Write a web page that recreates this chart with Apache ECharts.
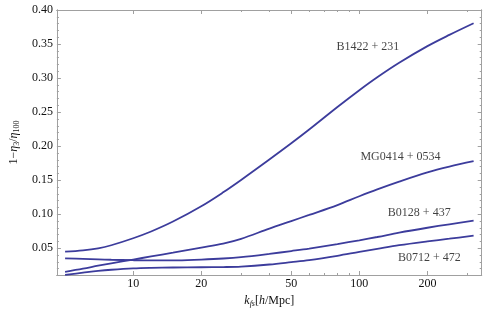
<!DOCTYPE html>
<html><head><meta charset="utf-8">
<script src="https://cdn.jsdelivr.net/npm/echarts@6/dist/echarts.min.js"></script>
<style>html,body{margin:0;padding:0;background:#fff}#c{width:490px;height:313px}</style>
</head><body><div id="c"></div>
<script>
// wavenumber k_fs [h/Mpc]
const kValues = [5, 6, 7, 8, 10, 12, 15, 20, 25, 30, 40, 50, 60, 80, 100, 120, 150, 200, 250, 320];
// 1 - eta3/eta100 for each lens system
const B1422 = [0.045, 0.047, 0.050, 0.0545, 0.0648, 0.0747, 0.0893, 0.1118, 0.1322, 0.1504, 0.1804, 0.2042, 0.2244, 0.2575, 0.2822, 0.3012, 0.3225, 0.3469, 0.3634, 0.3805];
const MG0414 = [0.0155, 0.020, 0.0245, 0.028, 0.0335, 0.038, 0.0435, 0.051, 0.057, 0.064, 0.079, 0.090, 0.099, 0.1135, 0.1265, 0.1366, 0.148, 0.1615, 0.170, 0.178];
const B0128 = [0.0353, 0.0345, 0.0338, 0.0332, 0.0325, 0.0322, 0.0322, 0.0335, 0.035, 0.037, 0.0418, 0.046, 0.0496, 0.0562, 0.0618, 0.0666, 0.073, 0.0802, 0.0853, 0.0905];
const B0712 = [0.011, 0.0142, 0.0168, 0.0185, 0.0205, 0.0213, 0.0218, 0.0222, 0.0225, 0.0232, 0.0262, 0.0296, 0.0326, 0.039, 0.0447, 0.0492, 0.0546, 0.0602, 0.0641, 0.0685];
const seriesNames = ['B1422 + 231', 'MG0414 + 0534', 'B0128 + 437', 'B0712 + 472'];
// annotation anchors (data space)
const labelK = [109, 152, 184, 204];
const labelV = [0.3464, 0.1845, 0.1014, 0.0353];
// ticks
const xLabelTicks = [10, 20, 50, 100, 200];
const xMinorTicks = [30, 40, 60, 70, 80, 90, 300];
const yLabelTicks = [0.05, 0.10, 0.15, 0.20, 0.25, 0.30, 0.35, 0.40];
const yMinorTicks = [0.02, 0.03, 0.04, 0.06, 0.07, 0.08, 0.09, 0.11, 0.12, 0.13, 0.14, 0.16, 0.17, 0.18, 0.19,
  0.21, 0.22, 0.23, 0.24, 0.26, 0.27, 0.28, 0.29, 0.31, 0.32, 0.33, 0.34, 0.36, 0.37, 0.38, 0.39];

const font = 'Liberation Serif';
const axisColor = '#a0a0a0';
const lineColor = '#3c3c9c';
const X_MIN = 4.6, X_MAX = 347.5, Y_MIN = 0.0108, Y_MAX = 0.40;

function xAx(pos, ticks, len, labels, withName) {
  const a = {
    type: 'log', logBase: 10, min: X_MIN, max: X_MAX, position: pos,
    axisLine: { show: true, onZero: false, lineStyle: { color: axisColor, width: 1 } },
    axisTick: { show: true, inside: true, length: len, customValues: ticks, lineStyle: { color: axisColor, width: 1 } },
    axisLabel: { show: !!labels, margin: 3, fontFamily: font, fontSize: 12, color: '#111',
      formatter: v => String(Math.round(v)) },
    splitLine: { show: false }, minorTick: { show: false }, minorSplitLine: { show: false }
  };
  if (labels) a.axisLabel.customValues = labels;
  if (withName) {
    a.name = '{i|k}{s|fs}{n|[}{i|h}{n|/Mpc]}';
    a.nameLocation = 'middle';
    a.nameGap = 18;
    a.nameTextStyle = {
      fontFamily: font, fontSize: 12, color: '#111',
      rich: {
        n: { fontFamily: font, fontSize: 12, color: '#111', lineHeight: 14 },
        i: { fontFamily: font, fontSize: 12, fontStyle: 'italic', color: '#111', lineHeight: 14 },
        s: { fontFamily: font, fontSize: 8, fontStyle: 'italic', color: '#111', lineHeight: 9, verticalAlign: 'bottom' }
      }
    };
  }
  return a;
}
function yAx(pos, ticks, len, labels, withName) {
  const a = {
    type: 'value', min: Y_MIN, max: Y_MAX, position: pos,
    axisLine: { show: true, onZero: false, lineStyle: { color: axisColor, width: 1 } },
    axisTick: { show: true, inside: true, length: len, customValues: ticks, lineStyle: { color: axisColor, width: 1 } },
    axisLabel: { show: !!labels, margin: 4, fontFamily: font, fontSize: 12, color: '#111',
      formatter: v => v.toFixed(2) },
    splitLine: { show: false }, minorTick: { show: false }
  };
  if (labels) a.axisLabel.customValues = labels;
  if (withName) {
    a.name = '{n|1−}{i|η}{s|3}{n|/}{i|η}{s|100}';
    a.nameLocation = 'middle';
    a.nameRotate = 90;
    a.nameGap = 29;
    a.nameTextStyle = {
      fontFamily: font, fontSize: 12, color: '#111',
      rich: {
        n: { fontFamily: font, fontSize: 12, color: '#111', lineHeight: 14 },
        i: { fontFamily: font, fontSize: 12, fontStyle: 'italic', color: '#111', lineHeight: 14 },
        s: { fontFamily: font, fontSize: 8, color: '#111', lineHeight: 9, verticalAlign: 'bottom' }
      }
    };
  }
  return a;
}

const curves = [B1422, MG0414, B0128, B0712];
const series = curves.map((vals, i) => ({
  type: 'line', name: seriesNames[i], xAxisIndex: 0, yAxisIndex: 0,
  data: kValues.map((k, j) => [k, vals[j]]),
  smooth: 0.35, showSymbol: false, symbol: 'none',
  lineStyle: { color: lineColor, width: 1.8 }, itemStyle: { color: lineColor },
  clip: true, z: 3
}));
series.push({
  type: 'scatter', xAxisIndex: 0, yAxisIndex: 0, symbolSize: 0, silent: true,
  data: seriesNames.map((n, i) => ({ name: n, value: [labelK[i], labelV[i]] })),
  label: { show: true, position: 'inside', formatter: p => p.name, fontFamily: font, fontSize: 12, color: '#111' },
  z: 4
});

const chart = echarts.init(document.getElementById('c'), null, { renderer: 'canvas' });
chart.setOption({
  animation: false,
  backgroundColor: '#fff',
  grid: { left: 53.3, right: 8.3, top: 10, bottom: 38, containLabel: false },
  xAxis: [
    xAx('bottom', xLabelTicks, 4, xLabelTicks, true),
    xAx('bottom', xMinorTicks, 2, null, false),
    xAx('top', xLabelTicks, 4, null, false),
    xAx('top', xMinorTicks, 2, null, false)
  ],
  yAxis: [
    yAx('left', yLabelTicks, 4, yLabelTicks, true),
    yAx('left', yMinorTicks, 2, null, false),
    yAx('right', yLabelTicks, 4, null, false),
    yAx('right', yMinorTicks, 2, null, false)
  ],
  series: series
});
</script></body></html>
